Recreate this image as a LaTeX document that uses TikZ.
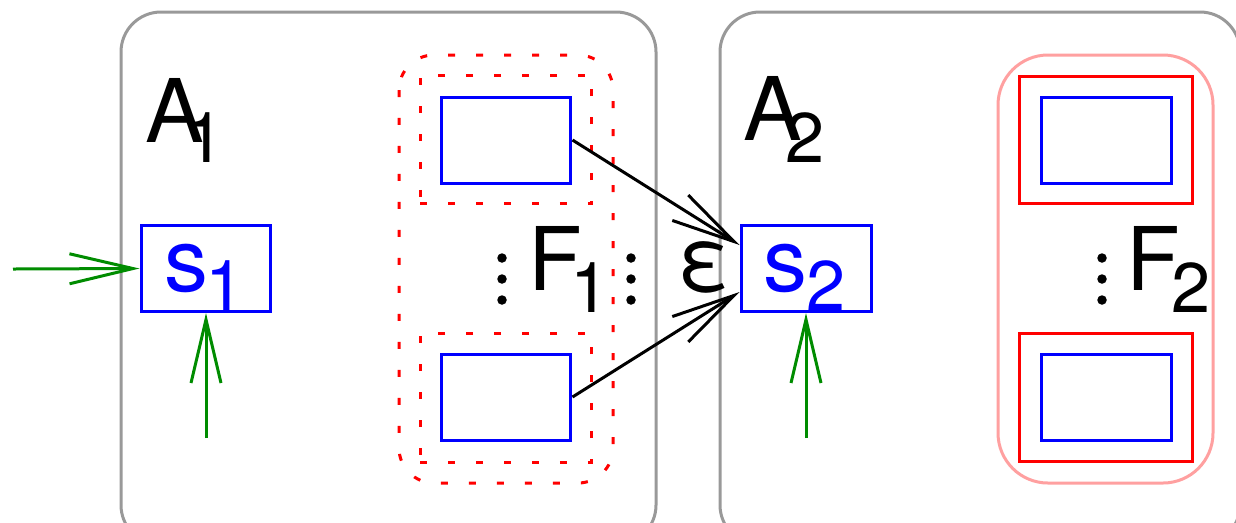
\documentclass[tikz,border=0pt]{standalone}
\usepackage{fontspec}
\setmainfont{TeX Gyre Heros}
\usetikzlibrary{arrows.meta}
\definecolor{grayline}{RGB}{153,153,153}
\definecolor{darkgreen}{RGB}{0,140,0}
\definecolor{pinkline}{RGB}{255,160,160}
\begin{document}
\begin{tikzpicture}[x=0.02cm,y=-0.02cm,
  lw/.style={line width=0.06cm},
  graybox/.style={draw=grayline, lw, rounded corners=0.8cm},
  bluebox/.style={draw=blue, lw, minimum width=2.6cm, minimum height=1.72cm, inner sep=0pt},
  redbox/.style={draw=red, lw, minimum width=3.46cm, minimum height=2.56cm, inner sep=0pt},
  dotbox/.style={draw=red, lw, dash pattern=on 0.14cm off 0.42cm},
  barb/.style={-{Straight Barb[length=1.27cm,width=0.6cm]}, lw},
  big/.style={inner sep=0pt, anchor=base west, font=\fontsize{50}{50}\selectfont},
  small/.style={inner sep=0pt, anchor=base west, font=\fontsize{40}{40}\selectfont},
  dot/.style={circle, fill, inner sep=0pt, minimum size=0.19cm}]
\clip (0,0) rectangle (1236,522);
% outer automaton boxes
\draw[graybox] (121,12) rectangle (656,545);
\draw[graybox] (720,12) rectangle (1240,545);
% groups
\draw[dotbox, rounded corners=0.7cm] (399,55) rectangle (613,483);
\node[dotbox, minimum width=3.44cm, minimum height=2.58cm, inner sep=0pt] (d1a) at (506,139.5) {};
\node[dotbox, minimum width=3.44cm, minimum height=2.58cm, inner sep=0pt] (d1b) at (506,397.5) {};
\draw[draw=pinkline, lw, rounded corners=1cm] (998,55) rectangle (1213,483);
\node[redbox] (r2a) at (1105.5,140) {};
\node[redbox] (r2b) at (1105.5,397.5) {};
% state boxes
\node[bluebox] (s1) at (206,268.5) {};
\node[bluebox] (f1a) at (506,140) {};
\node[bluebox] (f1b) at (506,397) {};
\node[bluebox] (s2) at (806,268.5) {};
\node[bluebox] (f2a) at (1106,140) {};
\node[bluebox] (f2b) at (1106,397) {};
% labels
\node[big] (a1) at (145,142) {A};
\node[small] (a1i) at (185,162) {1};
\node[big] (a2) at (743,140) {A};
\node[small] (a2i) at (785,162) {2};
\node[big, text=blue] (s1s) at (164,291) {s};
\node[small, text=blue] (s1i) at (205,310) {1};
\node[big, text=blue] (s2s) at (763,291) {s};
\node[small, text=blue] (s2i) at (806,310) {2};
\node[big] (f1) at (528,290) {F};
\node[small] (f1i) at (570,312) {1};
\node[big] (eps) at (677,290) {ε};
\node[big] (f2) at (1126,290) {F};
\node[small] (f2i) at (1171,312) {2};
% colon dots
\foreach \yy in {258,279,300} {
  \node[dot] at (502,\yy) {};
  \node[dot] at (631,\yy) {};
  \node[dot] at (1102,\yy) {};
}
% connectors
\coordinate (in1) at (13,269);
\coordinate (in2) at (206,438);
\coordinate (in3) at (806,438);
\draw[barb, darkgreen] (in1) -- (s1.west);
\draw[barb, darkgreen] (in2) -- (s1.south);
\draw[barb, darkgreen] (in3) -- (s2.south);
\draw[barb, black] (f1a.east) -- ([yshift=0.47cm]s2.west);
\draw[barb, black] (f1b.east) -- ([yshift=-0.47cm]s2.west);
\end{tikzpicture}
\end{document}
